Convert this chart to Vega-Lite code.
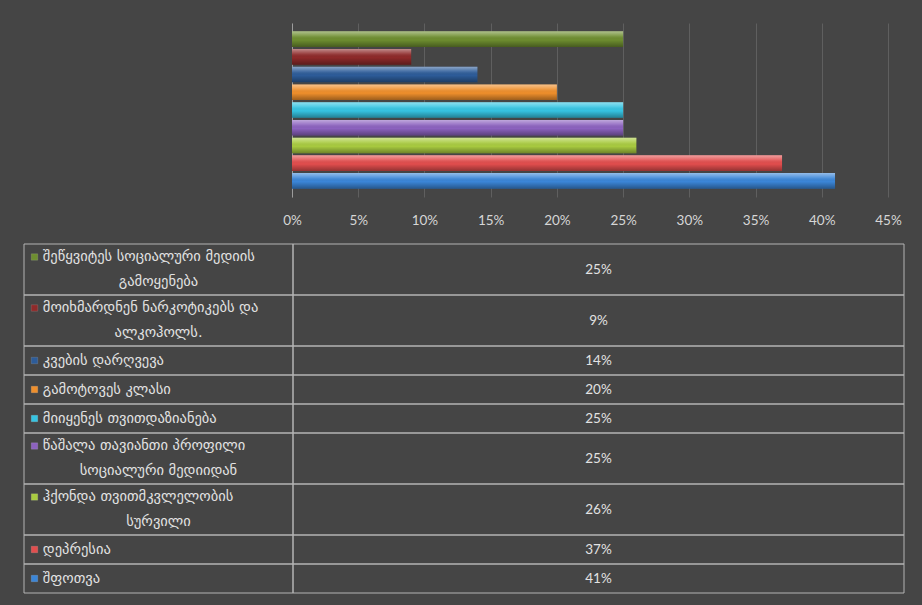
{
  "$schema": "https://vega.github.io/schema/vega-lite/v6.json",
  "background": "#454545",
  "padding": {"left": 23, "top": 23, "right": 19, "bottom": 14},
  "config": {"view": {"stroke": null}, "font": "Lato"},
  "datasets": {
    "rows": [
      {"order": 1, "cat": "შეწყვიტეს სოციალური მედიის გამოყენება", "line1": "შეწყვიტეს სოციალური მედიის", "line2": "გამოყენება", "value": 25},
      {"order": 2, "cat": "მოიხმარდნენ ნარკოტიკებს და ალკოჰოლს.", "line1": "მოიხმარდნენ ნარკოტიკებს და", "line2": "ალკოჰოლს.", "value": 9},
      {"order": 3, "cat": "კვების დარღვევა", "line1": "კვების დარღვევა", "line2": "", "value": 14},
      {"order": 4, "cat": "გამოტოვეს კლასი", "line1": "გამოტოვეს კლასი", "line2": "", "value": 20},
      {"order": 5, "cat": "მიიყენეს თვითდაზიანება", "line1": "მიიყენეს თვითდაზიანება", "line2": "", "value": 25},
      {"order": 6, "cat": "წაშალა თავიანთი პროფილი სოციალური მედიიდან", "line1": "წაშალა თავიანთი პროფილი", "line2": "სოციალური მედიიდან", "value": 25},
      {"order": 7, "cat": "ჰქონდა თვითმკვლელობის სურვილი", "line1": "ჰქონდა თვითმკვლელობის", "line2": "სურვილი", "value": 26},
      {"order": 8, "cat": "დეპრესია", "line1": "დეპრესია", "line2": "", "value": 37},
      {"order": 9, "cat": "შფოთვა", "line1": "შფოთვა", "line2": "", "value": 41}
    ]
  },
  "resolve": {"scale": {"x": "independent", "y": "independent", "color": "independent"}},
  "spacing": 16,
  "vconcat": [
    {
      "data": {"name": "rows"},
      "hconcat": [
        {
          "width": 268,
          "height": 174,
          "mark": {"type": "point", "opacity": 0},
          "encoding": {}
        },
        {
          "width": 596,
          "height": 174,
          "encoding": {
            "y": {
              "field": "cat", "type": "nominal", "sort": {"field": "order", "op": "min"},
              "scale": {"paddingInner": 0.12, "paddingOuter": 0.47},
              "axis": {"title": null, "labels": false, "ticks": false, "domain": true, "domainColor": "#9c9c9c", "grid": false}
            },
            "x": {
              "field": "value", "type": "quantitative",
              "scale": {"domain": [0, 45], "nice": false},
              "axis": {"title": null, "values": [0, 5, 10, 15, 20, 25, 30, 35, 40, 45], "labelExpr": "datum.value + '%'", "grid": true, "gridColor": "#5f5f5f", "domain": false, "ticks": false, "labelColor": "#d6d6d6", "labelFontSize": 13.5, "labelPadding": 16, "labelFlush": false}
            }
          },
          "layer": [
            {
              "mark": {"type": "bar"},
              "encoding": {
                "color": {
                  "field": "cat", "type": "nominal", "legend": null,
                  "scale": {
                    "domain": ["შეწყვიტეს სოციალური მედიის გამოყენება", "მოიხმარდნენ ნარკოტიკებს და ალკოჰოლს.", "კვების დარღვევა", "გამოტოვეს კლასი", "მიიყენეს თვითდაზიანება", "წაშალა თავიანთი პროფილი სოციალური მედიიდან", "ჰქონდა თვითმკვლელობის სურვილი", "დეპრესია", "შფოთვა"],
                    "range": ["#6e8e30", "#8e2a2a", "#2d5c99", "#ef8f2c", "#36c4e2", "#8c62bf", "#a9cb40", "#e24e4e", "#3b86d8"]
                  }
                }
              }
            },
            {
              "mark": {
                "type": "bar",
                "fill": {
                  "gradient": "linear", "x1": 0, "y1": 0, "x2": 0, "y2": 1,
                  "stops": [
                    {"offset": 0, "color": "rgba(255,255,255,0.45)"},
                    {"offset": 0.3, "color": "rgba(255,255,255,0.12)"},
                    {"offset": 0.55, "color": "rgba(0,0,0,0)"},
                    {"offset": 1, "color": "rgba(0,0,0,0.35)"}
                  ]
                }
              }
            }
          ]
        }
      ],
      "spacing": 0,
      "bounds": "flush",
      "resolve": {"scale": {"x": "independent", "y": "independent", "color": "independent"}}
    },
    {
      "data": {"name": "rows"},
      "transform": [
        {"calculate": "datum.line2 ? 2 : 1", "as": "lines"},
        {"calculate": "22 * datum.lines + 7", "as": "h"},
        {"window": [{"op": "sum", "field": "h", "as": "yEnd"}], "sort": [{"field": "order"}], "frame": [null, 0]},
        {"calculate": "datum.yEnd - datum.h", "as": "yStart"},
        {"calculate": "datum.yStart + (datum.lines == 2 ? 13 : datum.h / 2)", "as": "yLine1"},
        {"calculate": "datum.yStart + 37.5", "as": "yLine2"},
        {"calculate": "(datum.yStart + datum.yEnd) / 2", "as": "yMid"},
        {"calculate": "datum.value + '%'", "as": "pct"}
      ],
      "resolve": {"scale": {"x": "independent", "y": "independent", "color": "independent"}},
      "spacing": 0,
      "bounds": "flush",
      "hconcat": [
        {
          "width": 269,
          "height": 349,
          "layer": [
            {
              "mark": {"type": "rect", "fill": "transparent", "stroke": "#b4b4b4", "strokeWidth": 1},
              "encoding": {
                "y": {"field": "yStart", "type": "quantitative", "scale": {"domain": [0, 349], "reverse": true, "nice": false, "zero": false}, "axis": null},
                "y2": {"field": "yEnd"}
              }
            },
            {
              "mark": {"type": "square", "size": 42, "opacity": 1, "stroke": "#ffffff", "strokeOpacity": 0.25, "strokeWidth": 0.5},
              "encoding": {
                "x": {"datum": 0.039, "type": "quantitative", "scale": {"domain": [0, 1], "nice": false, "zero": false}, "axis": null},
                "y": {"field": "yLine1", "type": "quantitative", "scale": {"domain": [0, 349], "reverse": true, "nice": false, "zero": false}, "axis": null},
                "color": {
                  "field": "cat", "type": "nominal", "legend": null,
                  "scale": {
                    "domain": ["შეწყვიტეს სოციალური მედიის გამოყენება", "მოიხმარდნენ ნარკოტიკებს და ალკოჰოლს.", "კვების დარღვევა", "გამოტოვეს კლასი", "მიიყენეს თვითდაზიანება", "წაშალა თავიანთი პროფილი სოციალური მედიიდან", "ჰქონდა თვითმკვლელობის სურვილი", "დეპრესია", "შფოთვა"],
                    "range": ["#6e8e30", "#8e2a2a", "#2d5c99", "#ef8f2c", "#36c4e2", "#8c62bf", "#a9cb40", "#e24e4e", "#3b86d8"]
                  }
                }
              }
            },
            {
              "mark": {"type": "text", "align": "left", "baseline": "middle", "font": "DejaVu Sans", "fontSize": 14.5, "color": "#e2e2e2"},
              "encoding": {
                "x": {"datum": 0.07, "type": "quantitative", "scale": {"domain": [0, 1], "nice": false, "zero": false}, "axis": null},
                "y": {"field": "yLine1", "type": "quantitative", "scale": {"domain": [0, 349], "reverse": true, "nice": false, "zero": false}, "axis": null},
                "text": {"field": "line1"}
              }
            },
            {
              "mark": {"type": "text", "align": "center", "baseline": "middle", "font": "DejaVu Sans", "fontSize": 14.5, "color": "#e2e2e2"},
              "encoding": {
                "x": {"datum": 0.5, "type": "quantitative", "scale": {"domain": [0, 1], "nice": false, "zero": false}, "axis": null},
                "y": {"field": "yLine2", "type": "quantitative", "scale": {"domain": [0, 349], "reverse": true, "nice": false, "zero": false}, "axis": null},
                "text": {"field": "line2"}
              }
            }
          ]
        },
        {
          "width": 611,
          "height": 349,
          "layer": [
            {
              "mark": {"type": "rect", "fill": "transparent", "stroke": "#b4b4b4", "strokeWidth": 1},
              "encoding": {
                "y": {"field": "yStart", "type": "quantitative", "scale": {"domain": [0, 349], "reverse": true, "nice": false, "zero": false}, "axis": null},
                "y2": {"field": "yEnd"}
              }
            },
            {
              "mark": {"type": "text", "align": "center", "baseline": "middle", "font": "Lato", "fontSize": 13.5, "color": "#e2e2e2"},
              "encoding": {
                "y": {"field": "yMid", "type": "quantitative", "scale": {"domain": [0, 349], "reverse": true, "nice": false, "zero": false}, "axis": null},
                "text": {"field": "pct"}
              }
            }
          ]
        }
      ]
    }
  ]
}
